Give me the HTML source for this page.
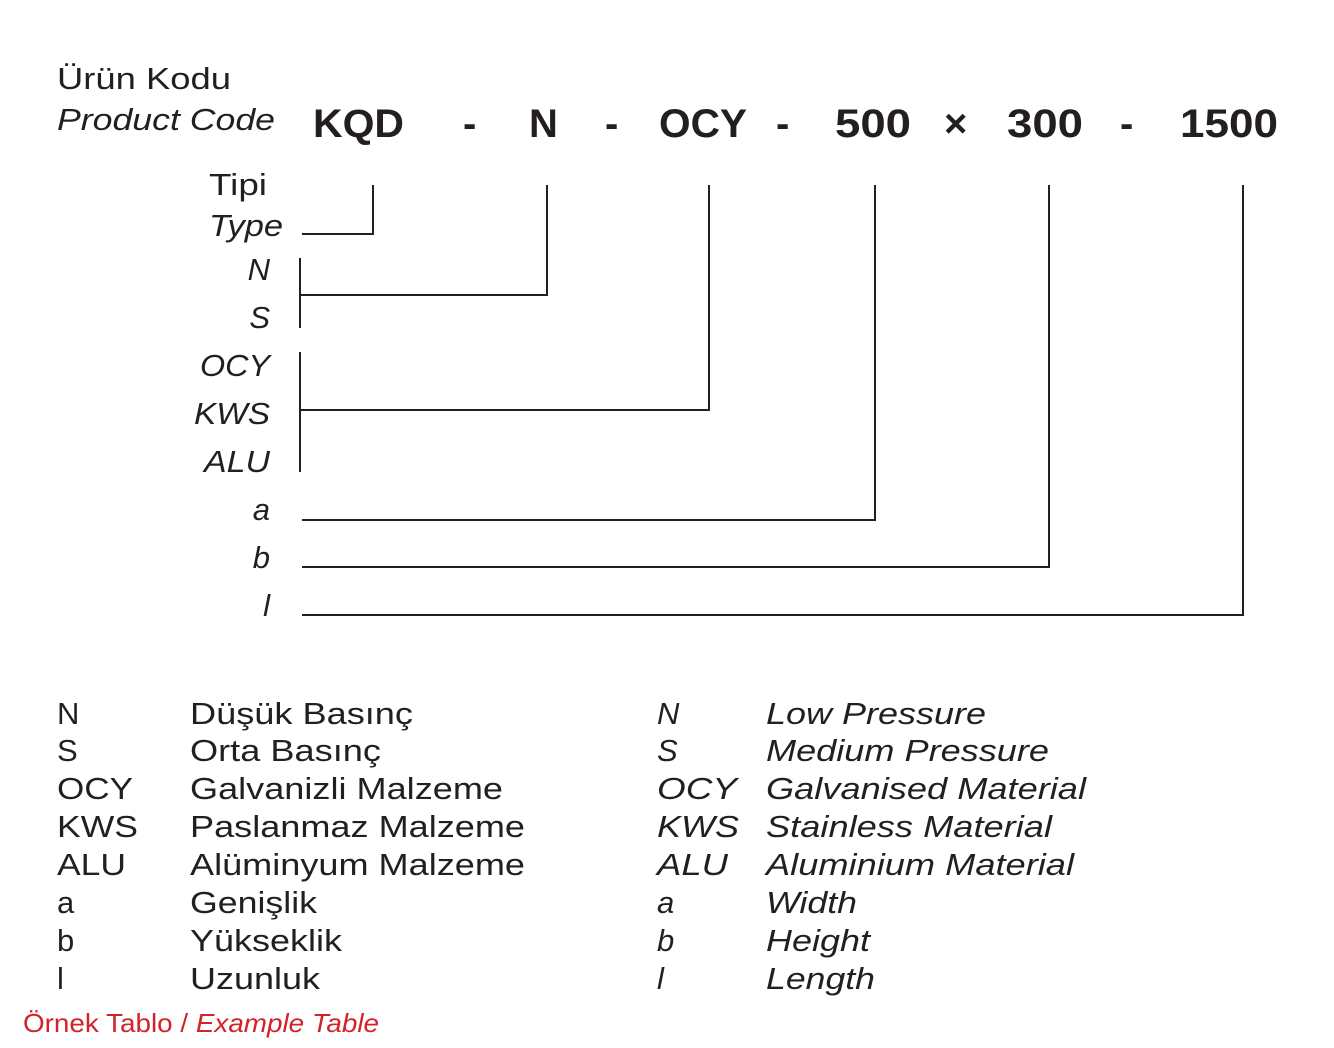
<!DOCTYPE html>
<html><head><meta charset="utf-8"><style>
html,body{margin:0;padding:0;background:#fff;}
svg{display:block;}
text{font-family:"Liberation Sans",sans-serif;fill:#231f20;}
.i{font-style:italic;}
.b{font-weight:bold;font-size:40px;}
.l{font-size:31px;}
</style></head><body>
<svg width="1334" height="1048" viewBox="0 0 1334 1048">
<g lengthAdjust="spacingAndGlyphs">
<text x="57" y="89" class="l" textLength="174" lengthAdjust="spacingAndGlyphs">Ürün Kodu</text>
<text x="57" y="130" class="l i" textLength="218" lengthAdjust="spacingAndGlyphs">Product Code</text>
<text x="313" y="137" class="b" textLength="91" lengthAdjust="spacingAndGlyphs">KQD</text>
<text x="463" y="137" class="b">-</text>
<text x="529" y="137" class="b">N</text>
<text x="605" y="137" class="b">-</text>
<text x="659" y="137" class="b" textLength="88" lengthAdjust="spacingAndGlyphs">OCY</text>
<text x="776" y="137" class="b">-</text>
<text x="835" y="137" class="b" textLength="76" lengthAdjust="spacingAndGlyphs">500</text>
<text x="944" y="137" class="b">×</text>
<text x="1007" y="137" class="b" textLength="76" lengthAdjust="spacingAndGlyphs">300</text>
<text x="1120" y="137" class="b">-</text>
<text x="1180" y="137" class="b" textLength="98" lengthAdjust="spacingAndGlyphs">1500</text>

<text x="209" y="195" class="l" textLength="58" lengthAdjust="spacingAndGlyphs">Tipi</text>
<text x="209" y="236" class="l i" textLength="74" lengthAdjust="spacingAndGlyphs">Type</text>
<text x="270" y="280" class="l i" text-anchor="end">N</text>
<text x="270" y="328" class="l i" text-anchor="end">S</text>
<text x="200" y="376" class="l i" textLength="70" lengthAdjust="spacingAndGlyphs">OCY</text>
<text x="194" y="424" class="l i" textLength="76" lengthAdjust="spacingAndGlyphs">KWS</text>
<text x="204" y="472" class="l i" textLength="66" lengthAdjust="spacingAndGlyphs">ALU</text>
<text x="270" y="520" class="l i" text-anchor="end">a</text>
<text x="270" y="568" class="l i" text-anchor="end">b</text>
<text x="270" y="616" class="l i" text-anchor="end">l</text>
</g>
<g stroke="#231f20" stroke-width="2" fill="none">
<polyline points="373,185 373,234 302,234"/>
<polyline points="547,185 547,295 300,295"/>
<line x1="300" y1="258" x2="300" y2="328"/>
<polyline points="709,185 709,410 300,410"/>
<line x1="300" y1="352" x2="300" y2="472"/>
<polyline points="875,185 875,520 302,520"/>
<polyline points="1049,185 1049,567 302,567"/>
<polyline points="1243,185 1243,615 302,615"/>
</g>
<text x="57" y="724" class="l">N</text><text x="190" y="724" class="l" textLength="223" lengthAdjust="spacingAndGlyphs">Düşük Basınç</text>
<text x="57" y="761" class="l">S</text><text x="190" y="761" class="l" textLength="191" lengthAdjust="spacingAndGlyphs">Orta Basınç</text>
<text x="57" y="799" class="l" textLength="76" lengthAdjust="spacingAndGlyphs">OCY</text><text x="190" y="799" class="l" textLength="313" lengthAdjust="spacingAndGlyphs">Galvanizli Malzeme</text>
<text x="57" y="837" class="l" textLength="81" lengthAdjust="spacingAndGlyphs">KWS</text><text x="190" y="837" class="l" textLength="335" lengthAdjust="spacingAndGlyphs">Paslanmaz Malzeme</text>
<text x="57" y="875" class="l" textLength="69" lengthAdjust="spacingAndGlyphs">ALU</text><text x="190" y="875" class="l" textLength="335" lengthAdjust="spacingAndGlyphs">Alüminyum Malzeme</text>
<text x="57" y="913" class="l">a</text><text x="190" y="913" class="l" textLength="127" lengthAdjust="spacingAndGlyphs">Genişlik</text>
<text x="57" y="951" class="l">b</text><text x="190" y="951" class="l" textLength="152" lengthAdjust="spacingAndGlyphs">Yükseklik</text>
<text x="57" y="989" class="l">l</text><text x="190" y="989" class="l" textLength="130" lengthAdjust="spacingAndGlyphs">Uzunluk</text>
<text x="657" y="724" class="l i">N</text><text x="766" y="724" class="l i" textLength="220" lengthAdjust="spacingAndGlyphs">Low Pressure</text>
<text x="657" y="761" class="l i">S</text><text x="766" y="761" class="l i" textLength="283" lengthAdjust="spacingAndGlyphs">Medium Pressure</text>
<text x="657" y="799" class="l i" textLength="80" lengthAdjust="spacingAndGlyphs">OCY</text><text x="766" y="799" class="l i" textLength="320" lengthAdjust="spacingAndGlyphs">Galvanised Material</text>
<text x="657" y="837" class="l i" textLength="82" lengthAdjust="spacingAndGlyphs">KWS</text><text x="766" y="837" class="l i" textLength="286" lengthAdjust="spacingAndGlyphs">Stainless Material</text>
<text x="657" y="875" class="l i" textLength="71" lengthAdjust="spacingAndGlyphs">ALU</text><text x="766" y="875" class="l i" textLength="308" lengthAdjust="spacingAndGlyphs">Aluminium Material</text>
<text x="657" y="913" class="l i">a</text><text x="766" y="913" class="l i" textLength="91" lengthAdjust="spacingAndGlyphs">Width</text>
<text x="657" y="951" class="l i">b</text><text x="766" y="951" class="l i" textLength="104" lengthAdjust="spacingAndGlyphs">Height</text>
<text x="657" y="989" class="l i">l</text><text x="766" y="989" class="l i" textLength="109" lengthAdjust="spacingAndGlyphs">Length</text>
<text x="23" y="1032" style="font-size:26px;fill:#d2232a" textLength="356" lengthAdjust="spacingAndGlyphs">Örnek Tablo / <tspan font-style="italic">Example Table</tspan></text>
</svg>
</body></html>
